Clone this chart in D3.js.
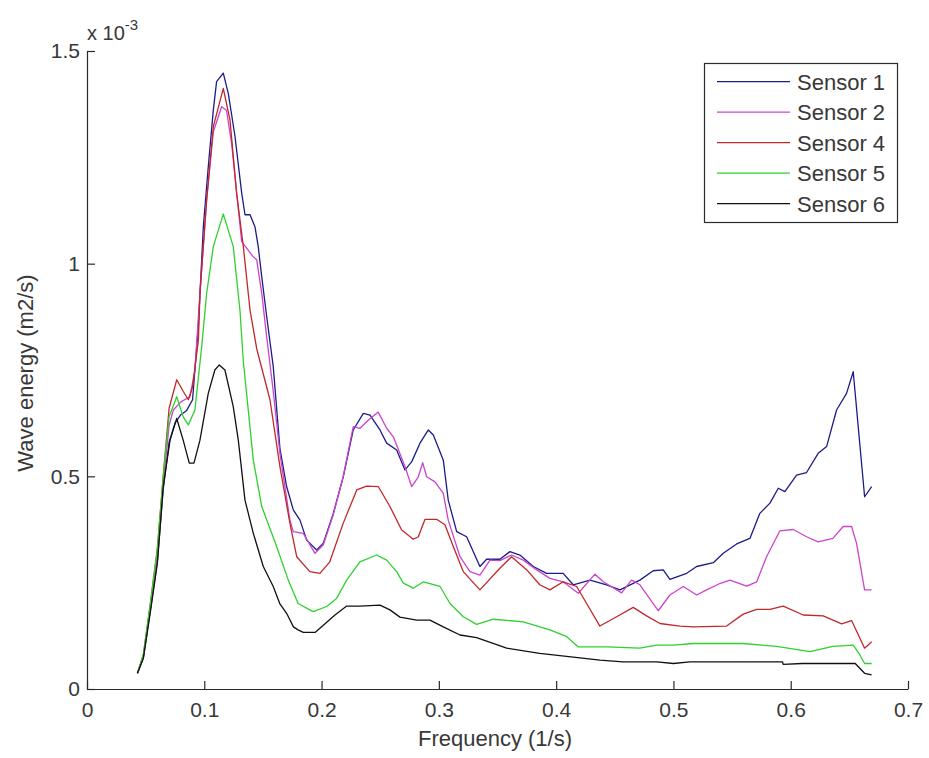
<!DOCTYPE html>
<html>
<head>
<meta charset="utf-8">
<script src="https://cdn.jsdelivr.net/npm/d3@7"></script>
<style>
  html, body { margin: 0; padding: 0; background: #fff; }
  svg { display: block; font-family: "Liberation Sans", Arial, sans-serif; }
</style>
</head>
<body>
<svg id="chart" width="929" height="758"></svg>
<script>
// Wave energy spectra, values in units of 1e-3 m2/s, as [frequency (1/s), energy]
const sensor1 = [[0.043,0.037],[0.048,0.072],[0.054,0.186],[0.060,0.30],[0.065,0.47],[0.070,0.58],[0.075,0.625],[0.080,0.645],[0.085,0.655],[0.090,0.68],[0.0949,0.852],[0.0992,1.087],[0.1034,1.228],[0.1077,1.361],[0.1105,1.428],[0.1162,1.448],[0.1205,1.40],[0.1262,1.299],[0.1319,1.166],[0.1347,1.115],[0.139,1.115],[0.1432,1.087],[0.146,1.04],[0.149,0.969],[0.153,0.88],[0.1588,0.758],[0.1645,0.565],[0.1702,0.476],[0.1759,0.421],[0.1816,0.397],[0.1873,0.35],[0.1958,0.327],[0.2015,0.343],[0.21,0.413],[0.2185,0.499],[0.227,0.609],[0.2356,0.648],[0.2413,0.644],[0.2498,0.609],[0.2555,0.578],[0.264,0.562],[0.2711,0.515],[0.2768,0.534],[0.2839,0.578],[0.291,0.609],[0.2953,0.597],[0.3038,0.538],[0.308,0.444],[0.3152,0.37],[0.3237,0.358],[0.335,0.288],[0.3407,0.305],[0.352,0.305],[0.3606,0.323],[0.3691,0.315],[0.3805,0.288],[0.3919,0.272],[0.406,0.272],[0.4146,0.245],[0.4288,0.256],[0.443,0.245],[0.4544,0.233],[0.4714,0.256],[0.4828,0.278],[0.4913,0.28],[0.497,0.258],[0.5113,0.272],[0.5198,0.288],[0.534,0.297],[0.5425,0.319],[0.5539,0.341],[0.5652,0.354],[0.5737,0.413],[0.5823,0.437],[0.5894,0.472],[0.595,0.464],[0.605,0.503],[0.6135,0.509],[0.6234,0.554],[0.6306,0.57],[0.6391,0.656],[0.6476,0.695],[0.6533,0.746],[0.663,0.452],[0.669,0.476]];

const sensor2 = [[0.043,0.037],[0.048,0.075],[0.054,0.19],[0.060,0.31],[0.065,0.48],[0.070,0.62],[0.0736,0.656],[0.080,0.675],[0.0878,0.687],[0.092,0.75],[0.0963,0.93],[0.102,1.15],[0.1077,1.31],[0.1148,1.369],[0.119,1.36],[0.1233,1.283],[0.1276,1.166],[0.1319,1.052],[0.1418,1.016],[0.1447,1.009],[0.149,0.93],[0.1532,0.828],[0.1588,0.70],[0.1645,0.554],[0.173,0.397],[0.1759,0.37],[0.1844,0.366],[0.1944,0.319],[0.2015,0.339],[0.21,0.41],[0.2185,0.50],[0.227,0.617],[0.2327,0.613],[0.2398,0.632],[0.2483,0.651],[0.2555,0.613],[0.2612,0.593],[0.2711,0.523],[0.2768,0.476],[0.2825,0.499],[0.2862,0.532],[0.2896,0.499],[0.2967,0.487],[0.3038,0.46],[0.308,0.397],[0.318,0.311],[0.3265,0.276],[0.335,0.268],[0.3436,0.303],[0.352,0.302],[0.362,0.315],[0.372,0.303],[0.3834,0.28],[0.3947,0.26],[0.406,0.252],[0.4189,0.225],[0.4331,0.27],[0.4402,0.252],[0.4558,0.226],[0.4643,0.256],[0.4714,0.245],[0.487,0.184],[0.497,0.221],[0.5084,0.241],[0.5198,0.221],[0.5283,0.233],[0.5396,0.248],[0.5482,0.256],[0.5624,0.242],[0.571,0.252],[0.5794,0.311],[0.5908,0.372],[0.6021,0.375],[0.6135,0.358],[0.6234,0.346],[0.636,0.354],[0.6447,0.382],[0.6519,0.382],[0.6561,0.343],[0.663,0.233],[0.669,0.233]];

const sensor4 = [[0.043,0.037],[0.048,0.08],[0.054,0.20],[0.060,0.33],[0.065,0.50],[0.070,0.66],[0.0765,0.727],[0.082,0.70],[0.0864,0.68],[0.090,0.71],[0.095,0.82],[0.0963,0.93],[0.102,1.15],[0.1077,1.322],[0.1162,1.412],[0.1219,1.338],[0.1276,1.165],[0.1333,1.04],[0.139,0.891],[0.1447,0.80],[0.156,0.68],[0.1645,0.523],[0.173,0.39],[0.1788,0.311],[0.190,0.276],[0.1986,0.272],[0.207,0.299],[0.2185,0.39],[0.23,0.468],[0.2384,0.477],[0.2483,0.476],[0.2583,0.429],[0.2683,0.374],[0.2782,0.352],[0.2825,0.358],[0.2882,0.399],[0.2981,0.399],[0.3052,0.386],[0.3123,0.335],[0.3208,0.276],[0.335,0.233],[0.352,0.284],[0.362,0.311],[0.375,0.28],[0.386,0.245],[0.3947,0.233],[0.406,0.252],[0.4175,0.241],[0.426,0.201],[0.4373,0.148],[0.4516,0.17],[0.4657,0.192],[0.4771,0.172],[0.4885,0.154],[0.5055,0.148],[0.517,0.146],[0.5453,0.148],[0.5595,0.176],[0.571,0.187],[0.5823,0.187],[0.5936,0.195],[0.6107,0.174],[0.6277,0.172],[0.6434,0.153],[0.6519,0.161],[0.663,0.096],[0.669,0.111]];

const sensor5 = [[0.043,0.037],[0.048,0.08],[0.054,0.20],[0.060,0.33],[0.065,0.50],[0.070,0.64],[0.0765,0.687],[0.082,0.64],[0.0864,0.621],[0.092,0.656],[0.0978,0.805],[0.102,0.93],[0.1077,1.04],[0.1162,1.117],[0.1247,1.04],[0.1304,0.891],[0.1333,0.77],[0.1418,0.538],[0.149,0.429],[0.1617,0.335],[0.1716,0.256],[0.180,0.201],[0.190,0.186],[0.193,0.182],[0.2043,0.194],[0.2128,0.213],[0.2214,0.256],[0.2327,0.299],[0.247,0.315],[0.2555,0.303],[0.264,0.276],[0.2697,0.249],[0.2782,0.237],[0.2868,0.252],[0.301,0.241],[0.3095,0.201],[0.3208,0.17],[0.3322,0.152],[0.3464,0.164],[0.372,0.158],[0.3947,0.139],[0.409,0.123],[0.4189,0.099],[0.443,0.099],[0.4714,0.096],[0.4857,0.103],[0.50,0.103],[0.517,0.107],[0.5595,0.107],[0.588,0.10],[0.6164,0.088],[0.636,0.10],[0.6533,0.103],[0.659,0.08],[0.663,0.06],[0.669,0.06]];

const sensor6 = [[0.043,0.037],[0.048,0.072],[0.0543,0.186],[0.060,0.296],[0.065,0.476],[0.0708,0.585],[0.0765,0.636],[0.082,0.585],[0.0872,0.531],[0.0912,0.531],[0.0963,0.585],[0.1034,0.695],[0.109,0.75],[0.1128,0.762],[0.1176,0.75],[0.1247,0.664],[0.129,0.585],[0.1347,0.444],[0.1418,0.366],[0.1503,0.288],[0.1588,0.241],[0.1645,0.20],[0.1702,0.178],[0.176,0.146],[0.180,0.139],[0.1844,0.133],[0.1944,0.133],[0.2015,0.150],[0.2114,0.174],[0.2214,0.195],[0.2327,0.195],[0.2498,0.197],[0.2583,0.186],[0.2668,0.169],[0.2811,0.162],[0.2924,0.162],[0.3038,0.146],[0.318,0.127],[0.3322,0.121],[0.3578,0.096],[0.386,0.084],[0.4146,0.075],[0.4373,0.068],[0.4572,0.064],[0.4857,0.064],[0.50,0.060],[0.514,0.064],[0.5930,0.064],[0.5936,0.058],[0.61,0.06],[0.655,0.06],[0.663,0.037],[0.669,0.033]];

const seriesNames = ["Sensor 1", "Sensor 2", "Sensor 4", "Sensor 5", "Sensor 6"];
const seriesData = [sensor1, sensor2, sensor4, sensor5, sensor6];
const seriesColors = ["#1c1c8a", "#cc44cc", "#c0282a", "#2fd02f", "#111111"];

const xTicks = [0, 0.1, 0.2, 0.3, 0.4, 0.5, 0.6, 0.7];
const yTicks = [0, 0.5, 1, 1.5];
const xLabel = "Frequency (1/s)";
const yLabel = "Wave energy (m2/s)";

const svg = d3.select("#chart");
const ink = "#2a2a2a";
const textInk = "#383838";

const x = d3.scaleLinear().domain([0, 0.7]).range([87, 908]);
const y = d3.scaleLinear().domain([0, 1.5]).range([689, 51]);

// Curves
const line = d3.line().x(d => x(d[0])).y(d => y(d[1]));
svg.append("g")
  .selectAll("path")
  .data(seriesData)
  .join("path")
  .attr("fill", "none")
  .attr("stroke", (d, i) => seriesColors[i])
  .attr("stroke-width", 1.3)
  .attr("stroke-linejoin", "round")
  .attr("d", line);

// Axes, ticks pointing inward
const xAxis = svg.append("g")
  .attr("transform", "translate(0,689)")
  .call(d3.axisBottom(x).tickValues(xTicks).tickFormat(d => String(d))
    .tickSizeInner(-8).tickSizeOuter(0).tickPadding(13));
const yAxis = svg.append("g")
  .attr("transform", "translate(87,0)")
  .call(d3.axisLeft(y).tickValues(yTicks).tickFormat(d => String(d))
    .tickSizeInner(-8).tickSizeOuter(0).tickPadding(7));

[xAxis, yAxis].forEach(g => {
  g.attr("font-family", null).attr("font-size", null);
  g.select(".domain").attr("stroke", ink).attr("stroke-width", 1.2);
  g.selectAll(".tick line").attr("stroke", ink).attr("stroke-width", 1.2);
  g.selectAll(".tick text").attr("fill", textInk).style("font-size", "21px");
});

// Axis titles
svg.append("text")
  .attr("x", 495).attr("y", 746)
  .attr("text-anchor", "middle")
  .attr("fill", textInk).style("font-size", "22px")
  .text(xLabel);

svg.append("text")
  .attr("transform", "translate(33,373) rotate(-90)")
  .attr("text-anchor", "middle")
  .attr("fill", textInk).style("font-size", "22px")
  .text(yLabel);

// Scale multiplier
const mult = svg.append("text")
  .attr("x", 87).attr("y", 40)
  .attr("fill", textInk).style("font-size", "20px");
mult.append("tspan").text("x 10");
mult.append("tspan").attr("dy", -10).style("font-size", "15px").text("-3");

// Legend
const legend = svg.append("g");
legend.append("rect")
  .attr("x", 704.5).attr("y", 63.5).attr("width", 193).attr("height", 159)
  .attr("fill", "#fff").attr("stroke", ink).attr("stroke-width", 1.2);
const rows = legend.selectAll("g.row")
  .data(seriesNames)
  .join("g")
  .attr("class", "row")
  .attr("transform", (d, i) => `translate(0,${81.7 + i * 30.5})`);
rows.append("line")
  .attr("x1", 717).attr("x2", 790)
  .attr("stroke", (d, i) => seriesColors[i])
  .attr("stroke-width", 1.3);
rows.append("text")
  .attr("x", 797).attr("dy", "0.36em")
  .attr("fill", textInk).style("font-size", "22px")
  .text(d => d);
</script>
</body>
</html>
